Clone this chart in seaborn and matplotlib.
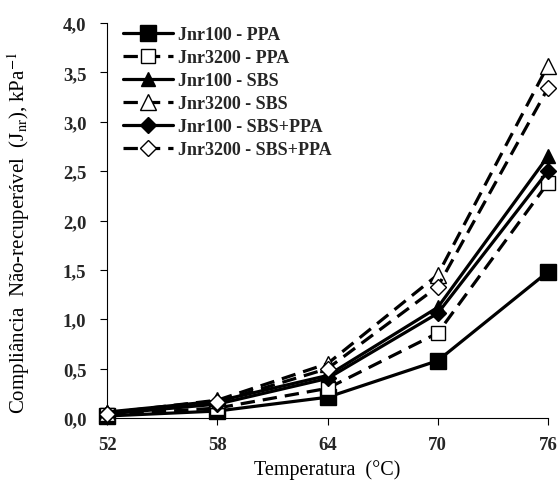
import matplotlib
matplotlib.use("Agg")
import matplotlib.pyplot as plt
import seaborn as sns

# data
temps = [52, 58, 64, 70, 76]
jnr100_ppa = [0.02, 0.07, 0.21, 0.58, 1.48]
jnr3200_ppa = [0.03, 0.10, 0.30, 0.86, 2.38]
jnr100_sbs = [0.06, 0.17, 0.43, 1.12, 2.65]
jnr3200_sbs = [0.05, 0.18, 0.55, 1.45, 3.57]
jnr100_sbs_ppa = [0.04, 0.14, 0.40, 1.06, 2.50]
jnr3200_sbs_ppa = [0.04, 0.16, 0.50, 1.33, 3.34]

labels = ["Jnr100 - PPA", "Jnr3200 - PPA", "Jnr100 - SBS",
          "Jnr3200 - SBS", "Jnr100 - SBS+PPA", "Jnr3200 - SBS+PPA"]
yticks = [0.0, 0.5, 1.0, 1.5, 2.0, 2.5, 3.0, 3.5, 4.0]
ytick_labels = ["0,0", "0,5", "1,0", "1,5", "2,0", "2,5", "3,0", "3,5", "4,0"]

series = [jnr100_ppa, jnr3200_ppa, jnr100_sbs, jnr3200_sbs,
          jnr100_sbs_ppa, jnr3200_sbs_ppa]
markers = ["s", "s", "^", "^", "D", "D"]
marker_sizes = [11.5, 10, 10, 11, 8, 8]
filled = [True, False, True, False, True, False]

sns.set_theme(style="white")
plt.rcParams["font.family"] = ["Liberation Serif", "DejaVu Serif"]
plt.rcParams["mathtext.fontset"] = "stix"

fig = plt.figure(figsize=(5.58, 4.81), dpi=100)
ax = fig.add_axes([0.192, 0.129, 0.79, 0.821])

for vals, lab, m, ms, f in zip(series, labels, markers, marker_sizes, filled):
    sns.lineplot(
        x=temps, y=vals, ax=ax, label=lab, color="black",
        linewidth=2.3, marker=m, markersize=ms,
        markerfacecolor="black" if f else "white",
        markeredgecolor="black", markeredgewidth=1.0,
        linestyle="-" if f else (0, (4.5, 2.5)),
        clip_on=False, zorder=3,
    )

ax.set_xlim(52, 76)
ax.set_ylim(0, 4.0)
ax.set_xticks(temps)
ax.set_xticklabels([str(t) for t in temps], fontweight="bold", fontsize=13.5)
ax.set_yticks(yticks)
ax.set_yticklabels(ytick_labels, fontweight="bold", fontsize=13.5)
ax.tick_params(axis="both", direction="out", length=5, width=0.8,
               color="black", bottom=True, left=True)
ax.tick_params(axis="y", pad=10)
ax.tick_params(axis="x", pad=8)

for side in ["top", "right"]:
    ax.spines[side].set_visible(False)
for side in ["left", "bottom"]:
    ax.spines[side].set_color("black")
    ax.spines[side].set_linewidth(0.8)

ax.set_xlabel("Temperatura  (°C)", fontsize=14.5, color="black")
ax.set_ylabel(r"Compliância  Não-recuperável  (J$_{\mathrm{nr}}$), kPa$^{-1}$",
              fontsize=15, color="black")
ax.xaxis.set_label_coords(0.5, -0.105)
ax.yaxis.set_label_coords(-0.17, 0.47)

leg = ax.legend(loc="upper left", bbox_to_anchor=(0.015, 1.015), frameon=False,
                handlelength=2.8, handletextpad=0.25, labelspacing=0.33,
                borderaxespad=0.1, prop={"weight": "bold", "size": 13,
                                         "family": "Liberation Serif"})

fig.savefig("out.png", dpi=100)
plt.close(fig)
